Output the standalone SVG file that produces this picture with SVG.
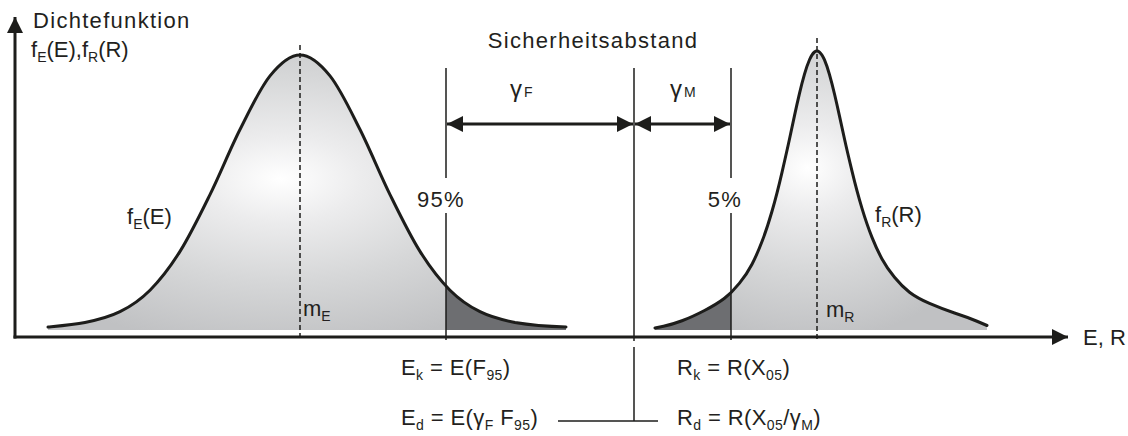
<svg xmlns="http://www.w3.org/2000/svg" width="1128" height="436" viewBox="0 0 1128 436">
<style>
.t{font-family:"Liberation Sans",Arial,sans-serif;font-size:22px;fill:#231f20}
.w{letter-spacing:1.3px}
.b{letter-spacing:0.4px}
.s{font-size:14px}
.g{font-size:24px}
.ax{stroke:#1d1d1b;stroke-width:3;fill:none}
.ln{stroke:#1d1d1b;stroke-width:1.5;fill:none}
.dash{stroke:#1d1d1b;stroke-width:1.5;stroke-dasharray:5 3;fill:none}
.curve{stroke:#1d1d1b;stroke-width:3;fill:none;stroke-linecap:round;stroke-linejoin:round}
.arr{stroke:#1d1d1b;stroke-width:3;fill:none}
.dark{fill:#6d6e71}
</style>
<defs>
<marker id="ah" viewBox="0 0 16 16" refX="16" refY="8" markerWidth="16" markerHeight="16" markerUnits="userSpaceOnUse" orient="auto-start-reverse">
<path d="M0,0 L16,8 L0,16 z" fill="#1d1d1b"/>
</marker>
<radialGradient id="gE" cx="0.45" cy="0.45" r="0.62">
<stop offset="0" stop-color="#ffffff"/>
<stop offset="0.25" stop-color="#ececed"/>
<stop offset="0.6" stop-color="#d6d7d8"/>
<stop offset="1" stop-color="#c0c1c3"/>
</radialGradient>
<radialGradient id="gR" cx="0.46" cy="0.42" r="0.62">
<stop offset="0" stop-color="#ffffff"/>
<stop offset="0.25" stop-color="#ececed"/>
<stop offset="0.6" stop-color="#d6d7d8"/>
<stop offset="1" stop-color="#c0c1c3"/>
</radialGradient>
<path id="cE" d="M48,327 C54.2,326.4 73,324.9 85,322.5 C97,320.1 109.2,317.1 120,311.7 C130.8,306.3 140,300.25 150,290.2 C160,280.15 170,267.3 180,251.4 C190,235.5 200,214.9 210,194.6 C220,174.3 230,149.3 240,129.5 C250,109.7 260,88.3 270,75.9 C280,63.5 290,55 300,55 C310,55 320,63.5 330,75.9 C340,88.3 350,109.7 360,129.5 C370,149.3 380,174.3 390,194.6 C400,214.9 410,235.5 420,251.4 C430,267.3 440,280.15 450,290.2 C460,300.25 469.2,306.3 480,311.7 C490.8,317.1 503,320.1 515,322.5 C530,325 550,326.5 566,327"/>
<path id="cR" d="M655,328 L663.5,326.25 Q672,324.5 682,320.75 Q692,317 704.5,310.5 Q717,304 724.5,298.25 Q732,292.5 739.5,283.15 Q747,273.8 752,264.2 Q757,254.6 762,241.55 Q767,228.5 772,211.25 Q777,194 782,172.3 Q787,150.6 789.5,138.95 Q792,127.3 794.5,115.65 Q797,104 799.5,93.4 Q802,82.8 804.5,74.15 Q807,65.5 809.5,59.75 Q812,54 814.5,52 Q817,50 819.5,52.05 Q822,54.1 824.5,59.95 Q827,65.8 829.5,74.6 Q832,83.4 834.5,94 Q837,104.6 839.5,116.1 Q842,127.6 844.5,139 Q847,150.4 852,171.1 Q857,191.8 862,208.35 Q867,224.9 872,237.35 Q877,249.8 882,258.95 Q887,268.1 894.5,277.3 Q902,286.5 909.5,292.25 Q917,298 929.5,303.45 Q942,308.9 954.5,312.95 Q967,317 977,321.25 L987,325.5"/>
<clipPath id="clipE"><rect x="446" y="40" width="130" height="300"/></clipPath>
<clipPath id="clipR"><rect x="640" y="40" width="91" height="300"/></clipPath>
</defs>

<g id="distE">
<path d="M48,327 C54.2,326.4 73,324.9 85,322.5 C97,320.1 109.2,317.1 120,311.7 C130.8,306.3 140,300.25 150,290.2 C160,280.15 170,267.3 180,251.4 C190,235.5 200,214.9 210,194.6 C220,174.3 230,149.3 240,129.5 C250,109.7 260,88.3 270,75.9 C280,63.5 290,55 300,55 C310,55 320,63.5 330,75.9 C340,88.3 350,109.7 360,129.5 C370,149.3 380,174.3 390,194.6 C400,214.9 410,235.5 420,251.4 C430,267.3 440,280.15 450,290.2 C460,300.25 469.2,306.3 480,311.7 C490.8,317.1 503,320.1 515,322.5 C530,325 550,326.5 566,327 L566,330 L48,330 Z" fill="url(#gE)"/>
<path class="dark" clip-path="url(#clipE)" d="M48,327 C54.2,326.4 73,324.9 85,322.5 C97,320.1 109.2,317.1 120,311.7 C130.8,306.3 140,300.25 150,290.2 C160,280.15 170,267.3 180,251.4 C190,235.5 200,214.9 210,194.6 C220,174.3 230,149.3 240,129.5 C250,109.7 260,88.3 270,75.9 C280,63.5 290,55 300,55 C310,55 320,63.5 330,75.9 C340,88.3 350,109.7 360,129.5 C370,149.3 380,174.3 390,194.6 C400,214.9 410,235.5 420,251.4 C430,267.3 440,280.15 450,290.2 C460,300.25 469.2,306.3 480,311.7 C490.8,317.1 503,320.1 515,322.5 C530,325 550,326.5 566,327 L566,330 L48,330 Z"/>
<line class="dash" x1="300" y1="45" x2="300" y2="340"/>
<use href="#cE" class="curve"/>
<text class="t" x="127" y="224">f<tspan class="s" baseline-shift="-5">E</tspan>(E)</text>
<text class="t" x="303" y="316">m<tspan class="s" baseline-shift="-5">E</tspan></text>
</g>

<g id="distR">
<path d="M655,328 L663.5,326.25 Q672,324.5 682,320.75 Q692,317 704.5,310.5 Q717,304 724.5,298.25 Q732,292.5 739.5,283.15 Q747,273.8 752,264.2 Q757,254.6 762,241.55 Q767,228.5 772,211.25 Q777,194 782,172.3 Q787,150.6 789.5,138.95 Q792,127.3 794.5,115.65 Q797,104 799.5,93.4 Q802,82.8 804.5,74.15 Q807,65.5 809.5,59.75 Q812,54 814.5,52 Q817,50 819.5,52.05 Q822,54.1 824.5,59.95 Q827,65.8 829.5,74.6 Q832,83.4 834.5,94 Q837,104.6 839.5,116.1 Q842,127.6 844.5,139 Q847,150.4 852,171.1 Q857,191.8 862,208.35 Q867,224.9 872,237.35 Q877,249.8 882,258.95 Q887,268.1 894.5,277.3 Q902,286.5 909.5,292.25 Q917,298 929.5,303.45 Q942,308.9 954.5,312.95 Q967,317 977,321.25 L987,325.5 L987,330 L655,330 Z" fill="url(#gR)"/>
<path class="dark" clip-path="url(#clipR)" d="M655,328 L663.5,326.25 Q672,324.5 682,320.75 Q692,317 704.5,310.5 Q717,304 724.5,298.25 Q732,292.5 739.5,283.15 L740,330 L655,330 Z"/>
<line class="dash" x1="817" y1="38" x2="817" y2="340"/>
<use href="#cR" class="curve"/>
<text class="t" x="875" y="222">f<tspan class="s" baseline-shift="-5">R</tspan>(R)</text>
<text class="t" x="826" y="317">m<tspan class="s" baseline-shift="-5">R</tspan></text>
</g>

<g id="axes">
<line class="ax" x1="15" y1="338.5" x2="15" y2="17" marker-end="url(#ah)"/>
<line class="ax" x1="13.5" y1="337" x2="1068" y2="337" marker-end="url(#ah)"/>
<text class="t w" x="33" y="28">Dichtefunktion</text>
<text class="t" x="31" y="57">f<tspan class="s" baseline-shift="-5">E</tspan>(E),f<tspan class="s" baseline-shift="-5">R</tspan>(R)</text>
<text class="t" x="1083" y="345">E, R</text>
</g>

<g id="limits">
<line class="ln" x1="446" y1="68" x2="446" y2="178"/>
<line class="ln" x1="446" y1="213" x2="446" y2="340"/>
<text class="t w" x="441" y="207" text-anchor="middle">95%</text>
<line class="ln" x1="731" y1="68" x2="731" y2="178"/>
<line class="ln" x1="731" y1="213" x2="731" y2="340"/>
<text class="t w" x="725" y="207" text-anchor="middle">5%</text>
<line class="ln" x1="634" y1="68" x2="634" y2="341"/>
<text class="t w" x="593" y="48" text-anchor="middle">Sicherheitsabstand</text>
<text class="t g" x="510" y="97">γ<tspan class="s" font-size="13" x="524">F</tspan></text>
<text class="t g" x="670" y="97">γ<tspan class="s" font-size="13" x="684">M</tspan></text>
</g>

<g id="connectors">
<line class="arr" x1="447" y1="124" x2="633" y2="124" marker-start="url(#ah)" marker-end="url(#ah)"/>
<line class="arr" x1="635" y1="124" x2="730" y2="124" marker-start="url(#ah)" marker-end="url(#ah)"/>
<line class="ln" x1="634" y1="347" x2="634" y2="421" stroke-width="2"/>
<line class="ln" x1="558" y1="421" x2="658" y2="421"/>
</g>

<g id="values">
<text class="t b" x="401" y="375">E<tspan class="s" baseline-shift="-5">k</tspan> = E(F<tspan class="s" baseline-shift="-5">95</tspan>)</text>
<text class="t b" x="677" y="375">R<tspan class="s" baseline-shift="-5">k</tspan> = R(X<tspan class="s" baseline-shift="-5">05</tspan>)</text>
<text class="t b" x="401" y="425">E<tspan class="s" baseline-shift="-5">d</tspan> = E(γ<tspan class="s" baseline-shift="-5">F</tspan> F<tspan class="s" baseline-shift="-5">95</tspan>)</text>
<text class="t b" x="677" y="425">R<tspan class="s" baseline-shift="-5">d</tspan> = R(X<tspan class="s" baseline-shift="-5">05</tspan>/γ<tspan class="s" baseline-shift="-5">M</tspan>)</text>
</g>
</svg>
